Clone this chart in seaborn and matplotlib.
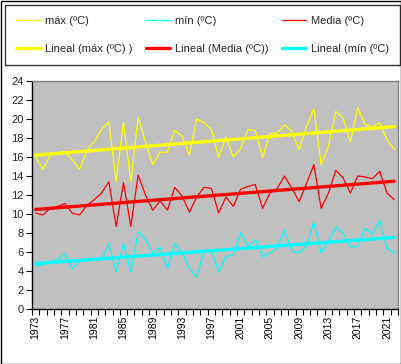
import numpy as np
import pandas as pd
import seaborn as sns
import matplotlib.pyplot as plt
from matplotlib.patches import Rectangle

# años 1973-2022
years = list(range(1973, 2023))

t_max = [16.0, 14.7, 16.2, 16.3, 16.6, 15.7, 14.7, 16.7, 17.6, 18.9,
         19.7, 13.4, 19.7, 13.4, 20.2, 17.6, 15.2, 16.5, 16.5, 18.8,
         18.2, 16.2, 20.0, 19.6, 18.9, 16.0, 18.1, 16.0, 16.9, 18.9,
         18.8, 15.9, 18.5, 18.5, 19.4, 18.7, 16.8, 19.2, 21.1, 15.2,
         17.1, 20.8, 20.1, 17.6, 21.2, 19.4, 19.2, 19.6, 17.8, 16.8]

t_media = [10.1, 9.9, 10.6, 10.8, 11.1, 10.1, 9.9, 10.9, 11.5, 12.2,
           13.4, 8.7, 13.3, 8.7, 14.1, 12.0, 10.4, 11.4, 10.4, 12.8,
           11.9, 10.2, 11.8, 12.8, 12.7, 10.1, 11.8, 10.8, 12.6, 12.9,
           13.1, 10.6, 12.2, 12.7, 14.0, 12.7, 11.3, 13.2, 15.2, 10.6,
           12.2, 14.6, 13.8, 12.2, 14.0, 13.9, 13.7, 14.5, 12.2, 11.5]

t_min = [4.5, 4.7, 5.0, 5.2, 5.8, 4.3, 5.0, 5.2, 5.2, 5.2,
         6.9, 3.9, 6.9, 3.9, 8.1, 7.3, 5.9, 6.5, 4.3, 6.9,
         5.9, 4.3, 3.3, 6.1, 6.2, 3.9, 5.5, 5.7, 8.0, 6.6,
         7.3, 5.5, 5.9, 6.4, 8.3, 6.1, 5.9, 6.6, 9.1, 5.9,
         7.1, 8.6, 8.0, 6.5, 6.6, 8.5, 7.9, 9.3, 6.4, 5.9]

tick_years = years[::4]

df = pd.DataFrame({"year": years, "max": t_max, "media": t_media, "min": t_min})

sns.set_theme(style="white")
plt.rcParams["font.family"] = ["Liberation Sans", "DejaVu Sans"]

fig = plt.figure(figsize=(4.02, 3.64), dpi=100)
ax = fig.add_axes([32 / 402, 1 - 309 / 364, 366 / 402, 228 / 364])
ax.set_facecolor("#C0C0C0")

yellow, cyan, red = "#FFFF00", "#00FFFF", "#FF0000"

# series originales
sns.lineplot(data=df, x="year", y="max", ax=ax, color=yellow, lw=0.9, label="máx (ºC)")
sns.lineplot(data=df, x="year", y="min", ax=ax, color=cyan, lw=0.9, label="mín (ºC)")
sns.lineplot(data=df, x="year", y="media", ax=ax, color=red, lw=0.9, label="Media (ºC)")

# líneas de tendencia (regresión lineal)
x = np.array(years)
trends = {}
for col in ["max", "media", "min"]:
    m, b = np.polyfit(x, df[col], 1)
    trends[col] = m * x + b
sns.lineplot(x=x, y=trends["max"], ax=ax, color=yellow, lw=2.4, label="Lineal (máx (ºC) )")
sns.lineplot(x=x, y=trends["media"], ax=ax, color=red, lw=2.4, label="Lineal (Media (ºC))")
sns.lineplot(x=x, y=trends["min"], ax=ax, color=cyan, lw=2.4, label="Lineal (mín (ºC)")

ax.set_xlim(1972.5, 2022.5)
ax.set_ylim(0, 24)
ax.set_yticks(range(0, 25, 2))
ax.set_xticks(tick_years)
ax.set_xticklabels([str(y) for y in tick_years], rotation=90)
ax.set_xticks(np.arange(1972.5, 2023, 1), minor=True)
ax.tick_params(axis="x", which="major", length=0, pad=5, labelsize=7.5, colors="black")
ax.tick_params(axis="x", which="minor", length=4, width=0.8, color="black", bottom=True)
ax.tick_params(axis="y", length=4, width=0.8, color="black", left=True, labelsize=8, pad=2)
ax.set_xlabel("")
ax.set_ylabel("")

for s in ["left", "bottom"]:
    ax.spines[s].set_color("black")
    ax.spines[s].set_linewidth(1)
for s in ["top", "right"]:
    ax.spines[s].set_color("#808080")
    ax.spines[s].set_linewidth(1)

# leyenda: orden por columnas
h, l = ax.get_legend_handles_labels()
ax.get_legend().remove()
order = [0, 3, 1, 4, 2, 5]
leg = fig.legend([h[i] for i in order], [l[i] for i in order],
                 loc="upper left", ncol=3, mode="expand",
                 bbox_to_anchor=(5 / 402, 1 - 66 / 364, 395 / 402, 61 / 364),
                 frameon=True, fancybox=False, edgecolor="black", fontsize=8,
                 handlelength=2.2, handletextpad=0.4, columnspacing=0.5,
                 borderaxespad=0, labelspacing=1.6, borderpad=1.0)
leg.get_frame().set_linewidth(1)

fig.patches.append(Rectangle((0.5 / 402, 0.5 / 364), 400.5 / 402, 362.5 / 364,
                             transform=fig.transFigure, fill=False,
                             edgecolor="black", lw=1))

fig.savefig("out.png", dpi=100)
